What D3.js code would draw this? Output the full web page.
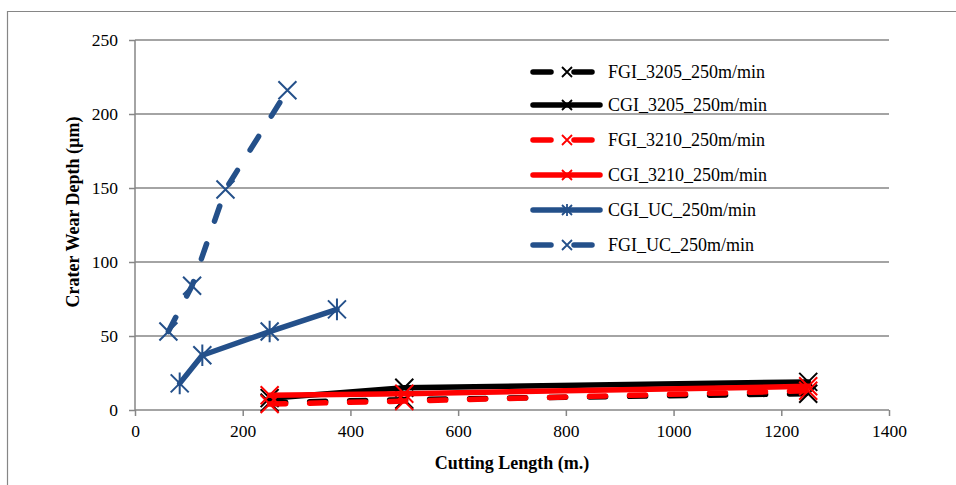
<!DOCTYPE html>
<html><head><meta charset="utf-8">
<script src="https://cdn.jsdelivr.net/npm/d3@7"></script>
<style>body{margin:0;background:#fff;}svg{display:block;}text{font-family:"Liberation Serif","Times New Roman",serif;}</style>
</head><body>
<svg id="c" width="956" height="485"></svg>
<script>
const xTicks = [0,200,400,600,800,1000,1200,1400];
const yTicks = [0,50,100,150,200,250];
const seriesNames = ["FGI_3205_250m/min","CGI_3205_250m/min","FGI_3210_250m/min","CGI_3210_250m/min","CGI_UC_250m/min","FGI_UC_250m/min"];
const fgi3205 = [[250,5],[500,7],[1250,11]];
const cgi3205 = [[250,8],[500,15],[1250,19]];
const fgi3210 = [[250,4],[500,6],[1250,13]];
const cgi3210 = [[250,10],[500,11],[1250,16]];
const cgiUC = [[83,18],[125,37],[250,53],[375,68]];
const fgiUC = [[62,53],[106,84],[168,149],[283,216]];

const blue = "#24508A";
const styles = [
  {data:fgi3205,color:"#000",dash:true,marker:"x"},
  {data:cgi3205,color:"#000",dash:false,marker:"x"},
  {data:fgi3210,color:"#FF0000",dash:true,marker:"x"},
  {data:cgi3210,color:"#FF0000",dash:false,marker:"x"},
  {data:cgiUC,color:blue,dash:false,marker:"star"},
  {data:fgiUC,color:blue,dash:true,marker:"x"}
];

const FONT = "'Liberation Serif','Times New Roman',serif";
const svg = d3.select("#c");
const x = d3.scaleLinear().domain([0,1400]).range([135,889]);
const y = d3.scaleLinear().domain([0,250]).range([410,40]);
const grey = "#868686";

// outer frame
svg.append("path").attr("d","M7.5,490 V11.5 H960").attr("fill","none").attr("stroke",grey).attr("stroke-width",1.2);

// gridlines
svg.append("g").selectAll("line").data(yTicks.filter(d=>d>0)).join("line")
  .attr("x1",x(0)).attr("x2",x(1400)).attr("y1",d=>y(d)).attr("y2",d=>y(d))
  .attr("stroke",grey).attr("stroke-width",1.5);

// axes
const gx = svg.append("g").attr("transform",`translate(0,${y(0)})`)
  .call(d3.axisBottom(x).tickValues(xTicks).tickFormat(d3.format("d")).tickSize(6).tickPadding(9));
const gy = svg.append("g").attr("transform",`translate(${x(0)},0)`)
  .call(d3.axisLeft(y).tickValues(yTicks).tickFormat(d3.format("d")).tickSize(6).tickPadding(11));
[gx,gy].forEach(g=>{
  g.attr("font-family",FONT).attr("font-size",17.5);
  g.select(".domain").attr("stroke",grey).attr("stroke-width",1.5);
  g.selectAll(".tick line").attr("stroke",grey).attr("stroke-width",1.5);
  g.selectAll("text").attr("fill","#000");
});
gy.select(".domain").attr("d",`M0,${y(0)}V${y(250)}`);
gx.select(".domain").attr("d",`M${x(0)},0H${x(1400)}`);

// axis titles
svg.append("text").attr("x",512).attr("y",469).attr("text-anchor","middle")
  .attr("font-weight","bold").attr("font-size",18).text("Cutting Length (m.)");
svg.append("text").attr("transform","translate(79,212) rotate(-90)").attr("text-anchor","middle")
  .attr("font-weight","bold").attr("font-size",18).text("Crater Wear Depth (µm)");

const line = d3.line().x(d=>x(d[0])).y(d=>y(d[1]));
function marker(g, cx, cy, type, color, r, sw){
  const p = `M${cx-r},${cy-r}L${cx+r},${cy+r}M${cx-r},${cy+r}L${cx+r},${cy-r}` + (type==="star"?`M${cx},${cy-r*1.2}L${cx},${cy+r*1.2}`:"");
  g.append("path").attr("d",p).attr("stroke",color).attr("stroke-width",sw).attr("fill","none");
}

styles.forEach(s=>{
  const g = svg.append("g");
  g.append("path").datum(s.data).attr("d",line).attr("fill","none")
    .attr("stroke",s.color).attr("stroke-width",5.5).attr("stroke-linecap","round").attr("stroke-linejoin","round")
    .attr("stroke-dasharray",s.dash?"16,24":null);
  s.data.forEach(d=>marker(g,x(d[0]),y(d[1]),s.marker,s.color,9,2));
});

// legend
const ly = [72,105,140,175,210,245];
styles.forEach((s,i)=>{
  const g = svg.append("g");
  const yy = ly[i];
  if(s.dash){
    g.append("line").attr("x1",533).attr("x2",551).attr("y1",yy).attr("y2",yy);
    g.append("line").attr("x1",574).attr("x2",592).attr("y1",yy).attr("y2",yy);
  } else {
    g.append("line").attr("x1",533).attr("x2",600).attr("y1",yy).attr("y2",yy);
  }
  g.selectAll("line").attr("stroke",s.color).attr("stroke-width",5.5).attr("stroke-linecap","round");
  marker(g,567,yy,s.marker,s.color,5,1.8);
  svg.append("text").attr("x",608).attr("y",yy+6).attr("font-size",18).text(seriesNames[i]);
});
</script>
</body></html>
